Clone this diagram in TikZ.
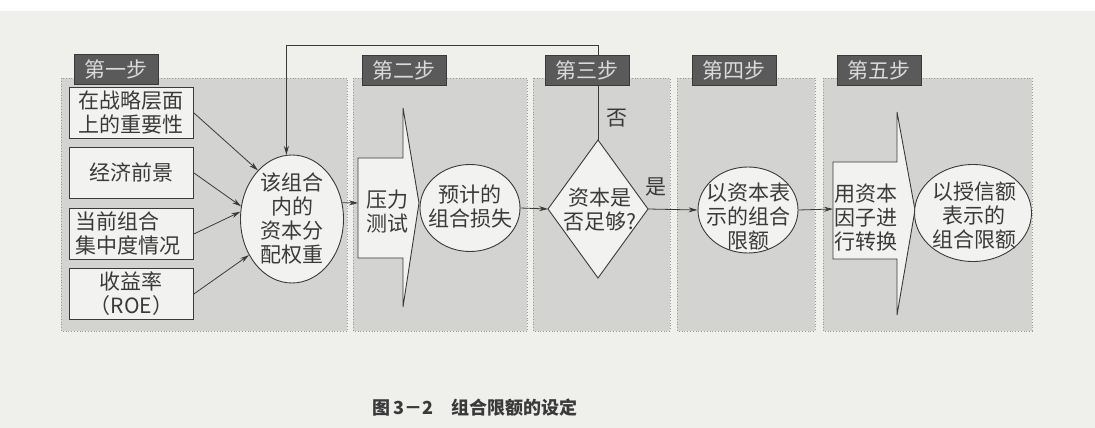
\documentclass[tikz,border=0pt]{standalone}
\usepackage{fontspec}
\setmainfont{Noto Sans CJK SC}
\usetikzlibrary{shapes.geometric,arrows.meta}
\definecolor{page}{HTML}{EFEFEC}
\definecolor{panel}{HTML}{D3D3D1}
\definecolor{panelline}{HTML}{9A9A98}
\definecolor{tagfill}{HTML}{5A5A5A}
\definecolor{tagtext}{HTML}{DADADA}
\definecolor{ink}{HTML}{3A3A3A}
\definecolor{shapefill}{HTML}{F2F2F0}
\begin{document}
\begin{tikzpicture}[x=1pt,y=-1pt,
  panelbox/.style={fill=panel, draw=panelline, dotted, line width=0.8pt},
  steptag/.style={fill=tagfill, draw=ink, text=tagtext, minimum width=84pt, minimum height=30pt, inner sep=0pt, font=\fontsize{21}{24}\selectfont, anchor=north west},
  txt/.style={font=\fontsize{21}{24}\selectfont, text=ink, align=center, inner sep=0pt},
  inbox/.style={txt, draw=ink, fill=shapefill, line width=0.9pt, minimum width=124pt, minimum height=51pt, anchor=north west},
  oval/.style={ellipse, draw=ink, fill=shapefill, line width=0.9pt, inner sep=0pt},
  arr/.style={draw=ink, line width=0.8pt, -{Stealth[length=9pt,width=5pt]}},
  outline/.style={draw=ink, fill=shapefill, line width=0.9pt, line join=miter}
]
\useasboundingbox (0,0) rectangle (1095,428);
\fill[page] (0,11) rectangle (1095,428);
\fill[white] (0,0) rectangle (1095,11);

% panels
\path[panelbox] (61,78) rectangle (347,331);
\path[panelbox] (353,78) rectangle (527,331);
\path[panelbox] (533,78) rectangle (670,331);
\path[panelbox] (677,78) rectangle (815,331);
\path[panelbox] (823,78) rectangle (1032,331);

% step 1 ellipse (needed for the feedback connector)
\node[oval, minimum width=103pt, minimum height=128pt] (c1) at (292,219) {};

% step 3 diamond corners
\coordinate (d3n) at (598,140);
\coordinate (d3e) at (648,209);
\coordinate (d3s) at (598,278);
\coordinate (d3w) at (548,209);

% feedback connector (behind the step tags)
\coordinate (fbtop) at (598,45);
\draw[arr] (d3n) -- (fbtop) -| (c1.95);

% step tags
\node[steptag] (t1) at (74,54) {第一步};
\node[steptag] (t2) at (362,55) {第二步};
\node[steptag] (t3) at (545,55) {第三步};
\node[steptag] (t4) at (692,55) {第四步};
\node[steptag] (t5) at (837,55) {第五步};

% step 1 inputs
\node[inbox] (b1) at (69,87) {在战略层面\\上的重要性};
\node[inbox] (b2) at (69,147) {经济前景};
\node[inbox, align=left, text width=112pt] (b3) at (69,208) {当前组合\\集中度情况};
\node[inbox] (b4) at (69,268) {收益率\\（ROE）};

\node[txt] (c1t) at (292,219) {该组合\\内的\\资本分\\配权重};

\draw[arr] (b1.east) -- (c1.125);
\draw[arr] (b2.east) -- (c1.166);
\draw[arr] (b3.east) -- (c1.172);
\draw[arr] (b4.east) -- (c1.220);

% step 2
\coordinate (p2in) at (358,203);
\draw[outline] (358,158) -- (403,158) -- (403,108) -- (419,203) -- (403,307) -- (403,258) -- (358,258) -- cycle;
\node[txt] (s2) at (387,212) {压力\\测试};
\draw[arr] (c1.18) -- (p2in);

\node[oval, minimum width=100pt, minimum height=87pt] (e2) at (470,208) {};
\node[txt] (e2t) at (470,207) {预计的\\组合损失};

% step 3
\draw[outline] (d3n) -- (d3e) -- (d3s) -- (d3w) -- cycle;
\node[txt] (d3t) at (600,210) {资本是\\否足够?};
\draw[arr] (e2.east) -- (d3w);

\node[txt] (yes) at (656,187) {是};
\node[txt] (no) at (617,118) {否};

% step 4
\node[oval, minimum width=100pt, minimum height=86pt] (e4) at (748,210) {};
\node[txt] (e4t) at (748,217) {以资本表\\示的组合\\限额};
\draw[arr] (d3e) -- (e4.west);

% step 5
\coordinate (p5in) at (833,209);
\draw[outline] (833,162) -- (897,162) -- (897,112) -- (915,210) -- (897,315) -- (897,259) -- (833,259) -- cycle;
\node[txt] (s5) at (866,218) {用资本\\因子进\\行转换};
\draw[arr] (e4.east) -- (p5in);

\node[oval, minimum width=117pt, minimum height=97pt] (e5) at (973,213) {};
\node[txt] (e5t) at (974,216) {以授信额\\表示的\\组合限额};

% caption
\node[anchor=west, font=\fontsize{18}{20}\selectfont\bfseries, text=ink, inner sep=0pt] (cap) at (372,408) {图\,3－2\quad 组合限额的设定};
\end{tikzpicture}
\end{document}
